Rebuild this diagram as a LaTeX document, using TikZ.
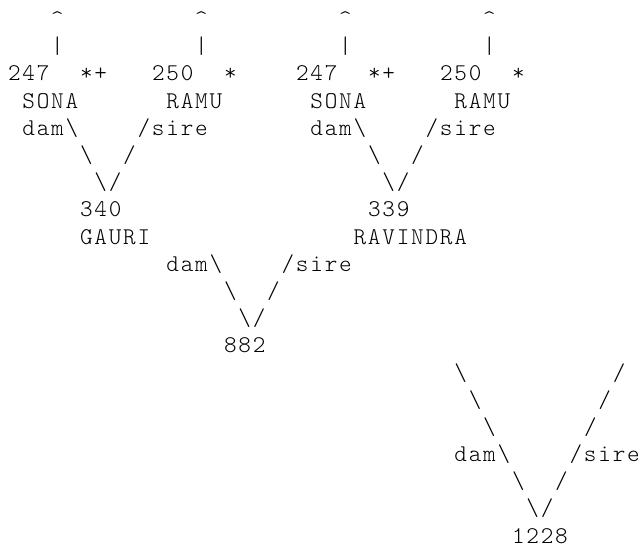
\documentclass[tikz,border=0pt]{standalone}
\usepackage{fontspec}
\setmonofont[LetterSpace=7.5]{lmmonolt10-regular.otf}
\usepackage{tikz}
\usetikzlibrary{positioning}
\tikzset{
  glyph/.style={anchor=base west, inner sep=0pt, outer sep=0pt, text=black, font=\ttfamily\fontsize{18pt}{20.39pt}\selectfont},
}
\newcommand{\bs}{\textbackslash}

\begin{document}
\begin{tikzpicture}[x=10.8pt, y=-20.39pt]
\useasboundingbox (-6pt,19.95pt) rectangle (476.25pt,-392.55pt);
% arrows pointing up out of the top generation
\foreach \c/\n in {3/a,13/b,23/c,33/d} {
  \node[glyph] (tip\n) at (\c,0) {\textasciicircum};
  \node[glyph] (bar\n) at (\c,1) {|};
}
% grandparents
\node[glyph] (idA) at (0,2) {247};
\node[glyph] (mkA) at (5,2) {*+};
\node[glyph] (idB) at (10,2) {250};
\node[glyph] (mkB) at (15,2) {*};
\node[glyph] (idC) at (20,2) {247};
\node[glyph] (mkC) at (25,2) {*+};
\node[glyph] (idD) at (30,2) {250};
\node[glyph] (mkD) at (35,2) {*};
\node[glyph] (nmA) at (1,3) {SONA};
\node[glyph] (nmB) at (11,3) {RAMU};
\node[glyph] (nmC) at (21,3) {SONA};
\node[glyph] (nmD) at (31,3) {RAMU};
\node[glyph] (damA) at (1,4) {dam\bs};
\node[glyph] (sireA) at (9,4) {/sire};
\node[glyph] (damB) at (21,4) {dam\bs};
\node[glyph] (sireB) at (29,4) {/sire};
\node[glyph] (lA1) at (5,5) {\bs};
\node[glyph] (rA1) at (8,5) {/};
\node[glyph] (lB1) at (25,5) {\bs};
\node[glyph] (rB1) at (28,5) {/};
\node[glyph] (vA) at (6,6) {\bs/};
\node[glyph] (vB) at (26,6) {\bs/};
% parents
\node[glyph] (idGauri) at (5,7) {340};
\node[glyph] (idRavi) at (25,7) {339};
\node[glyph] (nmGauri) at (5,8) {GAURI};
\node[glyph] (nmRavi) at (24,8) {RAVINDRA};
\node[glyph] (damC) at (11,9) {dam\bs};
\node[glyph] (sireC) at (19,9) {/sire};
\node[glyph] (lC1) at (15,10) {\bs};
\node[glyph] (rC1) at (18,10) {/};
\node[glyph] (vC) at (16,11) {\bs/};
\node[glyph] (id882) at (15,12) {882};
% last generation
\node[glyph] (lD1) at (31,13) {\bs};
\node[glyph] (rD1) at (42,13) {/};
\node[glyph] (lD2) at (32,14) {\bs};
\node[glyph] (rD2) at (41,14) {/};
\node[glyph] (lD3) at (33,15) {\bs};
\node[glyph] (rD3) at (40,15) {/};
\node[glyph] (damD) at (31,16) {dam\bs};
\node[glyph] (sireD) at (39,16) {/sire};
\node[glyph] (lD4) at (35,17) {\bs};
\node[glyph] (rD4) at (38,17) {/};
\node[glyph] (vD) at (36,18) {\bs/};
\node[glyph] (id1228) at (35,19) {1228};
\end{tikzpicture}
\end{document}
